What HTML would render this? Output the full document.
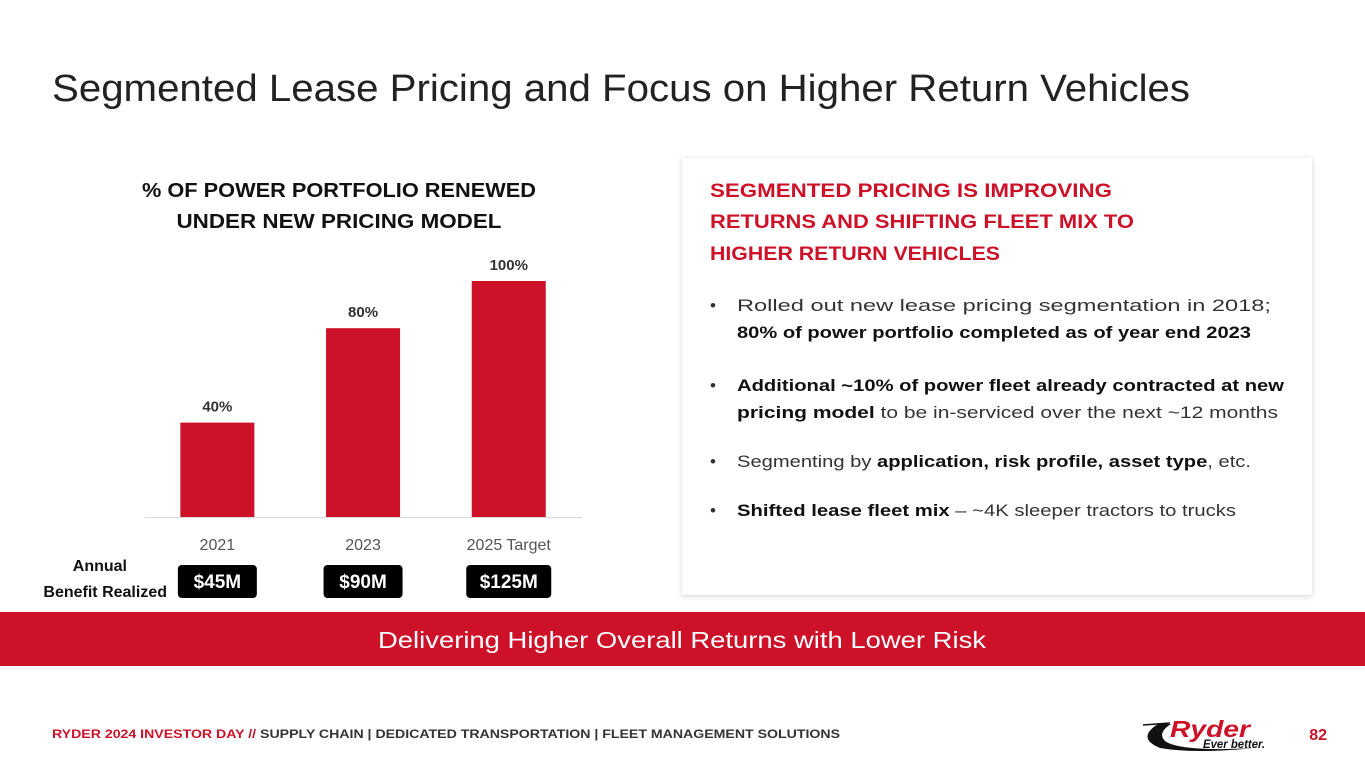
<!DOCTYPE html>
<html><head><meta charset="utf-8"><style>
html,body{margin:0;padding:0;background:#fff;}
svg{display:block;font-family:"Liberation Sans",sans-serif;}
</style></head><body>
<svg width="1365" height="768" viewBox="0 0 1365 768">
<defs><filter id="sh" x="-5%" y="-5%" width="110%" height="110%"><feDropShadow dx="0" dy="1" stdDeviation="3" flood-color="#000" flood-opacity="0.18"/></filter></defs>
<text x="52" y="101" font-size="38" fill="#222" textLength="1138" lengthAdjust="spacingAndGlyphs">Segmented Lease Pricing and Focus on Higher Return Vehicles</text>

<g font-weight="bold" font-size="20" fill="#111" text-anchor="middle">
<text x="339" y="197" textLength="394" lengthAdjust="spacingAndGlyphs">% OF POWER PORTFOLIO RENEWED</text>
<text x="339" y="228" textLength="325" lengthAdjust="spacingAndGlyphs">UNDER NEW PRICING MODEL</text>
</g>
<line x1="145" y1="517.5" x2="582" y2="517.5" stroke="#d9d9d9" stroke-width="1"/>
<g id="bars"></g>

<g font-weight="bold" font-size="16" fill="#111" text-anchor="end">
<text x="127" y="571">Annual</text>
<text x="167" y="597">Benefit Realized</text>
</g>
<g id="benefits"></g>

<rect x="682" y="158" width="630" height="437" fill="#fff" filter="url(#sh)"/>
<g font-weight="bold" font-size="19" fill="#cc1128">
<text x="710" y="197" textLength="402" lengthAdjust="spacingAndGlyphs">SEGMENTED PRICING IS IMPROVING</text>
<text x="710" y="228" textLength="424" lengthAdjust="spacingAndGlyphs">RETURNS AND SHIFTING FLEET MIX TO</text>
<text x="710" y="260" textLength="290" lengthAdjust="spacingAndGlyphs">HIGHER RETURN VEHICLES</text>
</g>
<g font-size="17" fill="#333">
<text x="710" y="311">•</text>
<text x="737" y="311" textLength="534" lengthAdjust="spacingAndGlyphs">Rolled out new lease pricing segmentation in 2018;</text>
<text x="737" y="338" font-weight="bold" fill="#111" textLength="514" lengthAdjust="spacingAndGlyphs">80% of power portfolio completed as of year end 2023</text>
<text x="710" y="391">•</text>
<text x="737" y="391" font-weight="bold" fill="#111" textLength="547" lengthAdjust="spacingAndGlyphs">Additional ~10% of power fleet already contracted at new</text>
<text x="737" y="418" textLength="541" lengthAdjust="spacingAndGlyphs"><tspan font-weight="bold" fill="#111">pricing model</tspan> to be in-serviced over the next ~12 months</text>
<text x="710" y="467">•</text>
<text x="737" y="467" textLength="514" lengthAdjust="spacingAndGlyphs">Segmenting by <tspan font-weight="bold" fill="#111">application, risk profile, asset type</tspan>, etc.</text>
<text x="710" y="516">•</text>
<text x="737" y="516" textLength="499" lengthAdjust="spacingAndGlyphs"><tspan font-weight="bold" fill="#111">Shifted lease fleet mix</tspan> – ~4K sleeper tractors to trucks</text>
</g>

<rect x="0" y="612" width="1365" height="54" fill="#cc1128"/>
<text x="682" y="648" font-size="23" fill="#fff" text-anchor="middle" textLength="608" lengthAdjust="spacingAndGlyphs">Delivering Higher Overall Returns with Lower Risk</text>

<text x="52" y="738" font-size="12" font-weight="bold" fill="#333" textLength="788" lengthAdjust="spacingAndGlyphs"><tspan fill="#cc1128">RYDER 2024 INVESTOR DAY // </tspan> SUPPLY CHAIN  |  DEDICATED TRANSPORTATION  |  FLEET MANAGEMENT SOLUTIONS</text>
<g>
<path d="M1158 724 q-22 14 2 24 q35 6 95 0 q-75 4 -90 -7 q-8 -8 6 -17z" fill="#111"/>
<line x1="1143" y1="725" x2="1170" y2="723" stroke="#111" stroke-width="1.5"/>
<text x="1170" y="737" font-size="23" font-weight="bold" font-style="italic" fill="#cc1128" textLength="80" lengthAdjust="spacingAndGlyphs">Ryder</text>
<text x="1203" y="748" font-size="12" font-weight="bold" font-style="italic" fill="#111" textLength="62" lengthAdjust="spacingAndGlyphs">Ever better.</text>
</g>
<text x="1327" y="740" font-size="16" font-weight="bold" fill="#cc1128" text-anchor="end">82</text>
</svg>
<script>
const categories=["2021","2023","2025 Target"];
const values=[40,80,100];
const valueLabels=["40%","80%","100%"];
const benefits=["$45M","$90M","$125M"];
const NS="http://www.w3.org/2000/svg";
const baseY=517, maxH=236, barW=74, x0=145, band=145.7;
function yScale(v){return baseY-v/100*maxH;}
function xCenter(i){return x0+band*(i+0.5)-0.5;}
const g=document.getElementById('bars');
const bg=document.getElementById('benefits');
categories.forEach((c,i)=>{
  const cx=xCenter(i);
  const r=document.createElementNS(NS,'rect');
  r.setAttribute('x',cx-barW/2);r.setAttribute('y',yScale(values[i]));
  r.setAttribute('width',barW);r.setAttribute('height',baseY-yScale(values[i]));
  r.setAttribute('fill','#cc1128');
  
  
  g.appendChild(r);
  const t=document.createElementNS(NS,'text');
  t.setAttribute('x',cx);t.setAttribute('y',yScale(values[i])-11);
  t.setAttribute('text-anchor','middle');t.setAttribute('font-size','15');t.setAttribute('font-weight','bold');t.setAttribute('fill','#333');
  t.textContent=valueLabels[i];
  
  
  g.appendChild(t);
  const l=document.createElementNS(NS,'text');
  l.setAttribute('x',cx);l.setAttribute('y',550);
  l.setAttribute('text-anchor','middle');l.setAttribute('font-size','16');l.setAttribute('fill','#555');
  l.textContent=c;
  
  
  g.appendChild(l);
  const w=55+benefits[i].length*6;
  const br=document.createElementNS(NS,'rect');
  br.setAttribute('x',cx-w/2);br.setAttribute('y',565);br.setAttribute('width',w);br.setAttribute('height',33);
  br.setAttribute('rx',4);br.setAttribute('fill','#000');
  
  
  bg.appendChild(br);
  const bt=document.createElementNS(NS,'text');
  bt.setAttribute('x',cx);bt.setAttribute('y',588);
  bt.setAttribute('text-anchor','middle');bt.setAttribute('font-size','19');bt.setAttribute('font-weight','bold');bt.setAttribute('fill','#fff');
  bt.textContent=benefits[i];
  
  
  bg.appendChild(bt);
});
</script>
</body></html>
